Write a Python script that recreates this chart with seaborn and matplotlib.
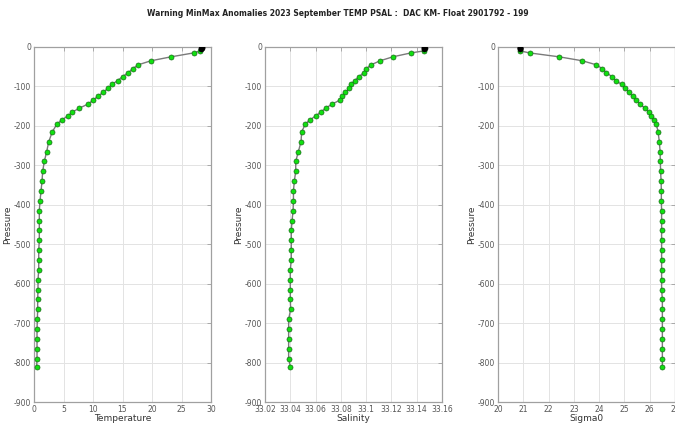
import matplotlib
matplotlib.use("Agg")
import matplotlib.pyplot as plt
import seaborn as sns
import numpy as np

title = "Warning MinMax Anomalies 2023 September TEMP PSAL :  DAC KM- Float 2901792 - 199"

pressure = [-10, -15, -25, -35, -45, -55, -65, -75, -85, -95, -105, -115, -125, -135,
            -145, -155, -165, -175, -185, -195, -215, -240, -265, -290, -315, -340, -365,
            -390, -415, -440, -465, -490, -515, -540, -565, -590, -615, -640, -665, -690,
            -715, -740, -765, -790, -810]
temperature = [28.2, 27.05, 23.2, 19.8, 17.7, 16.7, 16.0, 15.0, 14.2, 13.2, 12.5, 11.7, 10.8, 10.0,
               9.1, 7.7, 6.5, 5.7, 4.7, 3.9, 3.1, 2.5, 2.15, 1.75, 1.47, 1.36, 1.19,
               1.02, 0.9, 0.9, 0.9, 0.9, 0.8, 0.8, 0.8, 0.68, 0.68, 0.62, 0.62, 0.57,
               0.51, 0.51, 0.51, 0.51, 0.45]
salinity = [33.1455, 33.1354, 33.121, 33.111, 33.104, 33.100, 33.098, 33.0945, 33.091, 33.088,
            33.0866, 33.0834, 33.081, 33.079, 33.073, 33.068, 33.064, 33.060, 33.0554, 33.052,
            33.049, 33.0485, 33.0464, 33.0443, 33.0443, 33.0432, 33.0425, 33.0425, 33.0422,
            33.0414, 33.0408, 33.0408, 33.0408, 33.0408, 33.0400, 33.0400, 33.0400, 33.0400,
            33.0403, 33.0387, 33.0387, 33.0387, 33.0387, 33.0387, 33.0400]
sigma0 = [20.885, 21.25, 22.43, 23.34, 23.88, 24.13, 24.29, 24.50, 24.66, 24.89, 25.03, 25.18,
          25.32, 25.47, 25.63, 25.80, 25.96, 26.05, 26.18, 26.26, 26.33, 26.38, 26.41, 26.42,
          26.43, 26.45, 26.46, 26.46, 26.47, 26.47, 26.47, 26.47, 26.47, 26.47, 26.47, 26.47,
          26.47, 26.50, 26.50, 26.50, 26.50, 26.50, 26.50, 26.50, 26.50]

surf_pressure = [-1, -2, -3, -4]
surf_temperature = [28.4, 28.4, 28.35, 28.3]
surf_salinity = [33.146, 33.146, 33.1462, 33.146]
surf_sigma0 = [20.87, 20.87, 20.875, 20.88]

panels = [
    ("Temperature", temperature, surf_temperature, (0, 30), [0, 5, 10, 15, 20, 25, 30], ["0", "5", "10", "15", "20", "25", "30"]),
    ("Salinity", salinity, surf_salinity, (33.02, 33.16),
     [33.02, 33.04, 33.06, 33.08, 33.10, 33.12, 33.14, 33.16],
     ["33.02", "33.04", "33.06", "33.08", "33.1", "33.12", "33.14", "33.16"]),
    ("Sigma0", sigma0, surf_sigma0, (20, 27), [20, 21, 22, 23, 24, 25, 26, 27],
     ["20", "21", "22", "23", "24", "25", "26", "27"]),
]
yticks = [0, -100, -200, -300, -400, -500, -600, -700, -800, -900]
yticklabels = ["0", "-100", "-200", "-300", "-400", "-500", "-600", "-700", "-800", "-900"]

sns.set_style("white")
plt.rcParams['font.family'] = ['DejaVu Sans']

fig = plt.figure(figsize=(6.75, 4.23), dpi=100)
lefts = [34 / 675, 265 / 675, 498 / 675]
for (xlabel, vals, svals, xlim, xt, xtl), left in zip(panels, lefts):
    ax = fig.add_axes([left, 21 / 423, 177 / 675, 355 / 423])
    allx = svals + vals
    ally = surf_pressure + pressure
    sns.lineplot(x=allx, y=ally, sort=False, estimator=None, color="#7a7a7a",
                 linewidth=1.0, ax=ax, zorder=2)
    sns.scatterplot(x=vals, y=pressure, color="#10e010", edgecolor="#1a6a1a",
                    linewidth=0.5, s=13, ax=ax, zorder=3)
    sns.scatterplot(x=svals, y=surf_pressure, color="black", edgecolor="black",
                    linewidth=0.5, s=13, ax=ax, zorder=4)
    ax.set_xlim(*xlim)
    ax.set_ylim(-900, 0)
    ax.set_xticks(xt)
    ax.set_xticklabels(xtl)
    ax.set_yticks(yticks)
    ax.set_yticklabels(yticklabels)
    ax.grid(True, color="#e3e3e3", linewidth=0.7)
    ax.set_axisbelow(True)
    for sp in ax.spines.values():
        sp.set_color("#a0a0a0")
        sp.set_linewidth(0.9)
    ax.tick_params(direction="in", length=3, width=0.6, colors="#a0a0a0",
                   labelcolor="#555555", labelsize=5.5, pad=2, top=True, right=True)
    ax.set_xlabel(xlabel, fontsize=6.5, color="#333333", labelpad=0)
    ax.set_ylabel("Pressure", fontsize=6.5, color="#333333", labelpad=1)

fig.text(0.5, 1 - 14 / 423, title, ha="center", va="center", fontsize=5.5,
         fontweight="bold", color="#222222")

fig.savefig("out.png", dpi=100)
